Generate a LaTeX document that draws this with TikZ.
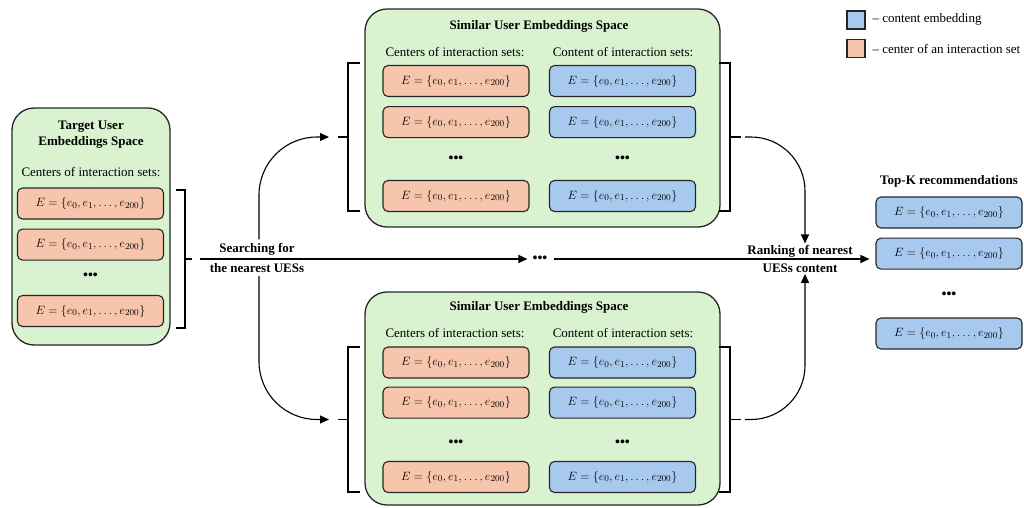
\documentclass[tikz,border=0pt]{standalone}
\usepackage{fontspec}
\setmainfont{Liberation Serif}
\usetikzlibrary{arrows.meta, positioning}
\definecolor{panelgreen}{HTML}{D9F2D0}
\definecolor{ctrsalmon}{HTML}{F6C5AC}
\definecolor{cntblue}{HTML}{A7C9EE}
\newcommand{\eset}{$E=\{e_0,e_1,\ldots,e_{200}\}$}

\begin{document}
\begin{tikzpicture}[
  x=1pt, y=-1pt,
  font=\fontsize{13}{15}\selectfont,
  box/.style  ={draw=black!85, line width=1.1pt, rounded corners=5pt, minimum width=146pt, minimum height=31pt, inner sep=0pt, font=\fontsize{12.3}{14}\selectfont},
  ctr/.style  ={box, fill=ctrsalmon},
  cnt/.style  ={box, fill=cntblue},
  key/.style  ={draw=black!85, line width=1.1pt, minimum size=18pt, inner sep=0pt},
  panel/.style={draw=black!85, line width=1.3pt, rounded corners=22pt, fill=panelgreen, inner sep=0pt},
  ttl/.style  ={font=\fontsize{13}{16}\selectfont\bfseries, align=center},
  dots/.style ={font=\fontsize{14}{14}\selectfont\bfseries, inner sep=1pt},
  arr/.style  ={-{Triangle[length=9pt,width=8pt]}, line width=1.1pt},
  brk/.style  ={line width=1.1pt},
  node distance=9pt,
]
  \useasboundingbox (0,0) rectangle (1024,507);

  % legend
  \node[key, fill=cntblue]   (keycnt) at (856,20) {};
  \node[key, fill=ctrsalmon] (keyctr) at (856,48.5) {};
  \node[anchor=west] (keycnttxt) at (869,19) {-- content embedding};
  \node[anchor=west] (keyctrtxt) at (869,49) {-- center of an interaction set};

  % target user space
  \node[panel, minimum width=158pt, minimum height=237pt] (target) at (91,226.5) {};
  \node[ttl] (targetttl) at (91,135) {Target User\\Embeddings Space};
  \node (targethd) at (91,172) {Centers of interaction sets:};
  \node[ctr] (t1) at (90.5,203.5) {\eset};
  \node[ctr, below=of t1] (t2) {\eset};
  \node[dots] (tdots) at (90.5,276) {•••};
  \node[ctr] (t3) at (90.5,311) {\eset};

  % similar user space (top)
  \node[panel, minimum width=355pt, minimum height=218pt] (simtop) at (542.5,118) {};
  \node[ttl] (simtopttl) at (539,26) {Similar User Embeddings Space};
  \node (simtophdA) at (455,52) {Centers of interaction sets:};
  \node (simtophdB) at (623,52) {Content of interaction sets:};
  \node[ctr] (a1) at (456,81) {\eset};
  \node[ctr, below=of a1] (a2) {\eset};
  \node[dots] (adots) at (456,159) {•••};
  \node[ctr] (a3) at (456,196) {\eset};
  \node[cnt] (b1) at (622.5,81) {\eset};
  \node[cnt, below=of b1] (b2) {\eset};
  \node[dots] (bdots) at (622.5,159) {•••};
  \node[cnt] (b3) at (622.5,196) {\eset};

  % similar user space (bottom)
  \node[panel, minimum width=355pt, minimum height=213pt] (simbot) at (542.5,398.5) {};
  \node[ttl] (simbotttl) at (539,307) {Similar User Embeddings Space};
  \node (simbothdA) at (455,333) {Centers of interaction sets:};
  \node (simbothdB) at (623,333) {Content of interaction sets:};
  \node[ctr] (c1) at (456,362.5) {\eset};
  \node[ctr, below=8pt of c1] (c2) {\eset};
  \node[dots] (cdots) at (456,443) {•••};
  \node[ctr] (c3) at (456,477) {\eset};
  \node[cnt] (d1) at (622.5,362.5) {\eset};
  \node[cnt, below=8pt of d1] (d2) {\eset};
  \node[dots] (ddots) at (622.5,443) {•••};
  \node[cnt] (d3) at (622.5,477) {\eset};

  % top-K
  \node[ttl] (topkttl) at (949,181) {Top-K recommendations};
  \node[cnt] (k1) at (949,212.5) {\eset};
  \node[cnt, below=of k1] (k2) {\eset};
  \node[dots] (kdots) at (949,295) {•••};
  \node[cnt] (k3) at (949,333.5) {\eset};

  % brackets
  \draw[brk] (176,190) -- (185,190) -- (185,328) -- (176,328);
  \draw[brk] (185,259) -- (192,259) coordinate (lbr);
  \draw[brk] (360,63) -- (348,63) -- (348,211) -- (360,211);
  \draw[brk] (348,137) -- (338,137) coordinate (tlbr);
  \draw[brk] (719,63) -- (730,63) -- (730,211) -- (719,211);
  \draw[brk] (730,137) -- (741,137) coordinate (trbr);
  \draw[brk] (360,347) -- (348,347) -- (348,492) -- (360,492);
  \draw[brk] (348,419.5) -- (338,419.5) coordinate (blbr);
  \draw[brk] (719,347) -- (730,347) -- (730,492) -- (719,492);
  \draw[brk] (730,419.5) -- (741,419.5) coordinate (brbr);

  % labels on the main line
  \node[ttl] (srchA) at (257,249) {Searching for};
  \node[ttl] (srchB) at (257,268) {the nearest UESs};
  \node[dots] (mdots) at (540,259) {•••};
  \node[ttl] (rnkA) at (800,251) {Ranking of nearest};
  \node[ttl] (rnkB) at (800,268) {UESs content};

  \draw[arr] ([xshift=8pt]lbr) -- ([xshift=-4pt]mdots.west);
  \draw[arr] ([xshift=5pt]mdots.east) -- ([xshift=-6pt]k2.west |- mdots);
  \draw[arr, rounded corners=58pt] ([xshift=2pt]srchA.north) |- ([xshift=-9pt]tlbr);
  \draw[arr, rounded corners=58pt] ([xshift=2pt]srchB.south) |- ([xshift=-9pt]blbr);
  \draw[arr, rounded corners=54pt] ([xshift=4pt]trbr) -| ([xshift=5pt,yshift=-2pt]rnkA.north);
  \draw[arr, rounded corners=54pt] ([xshift=4pt]brbr) -| ([xshift=5pt,yshift=2pt]rnkB.south);
\end{tikzpicture}
\end{document}
